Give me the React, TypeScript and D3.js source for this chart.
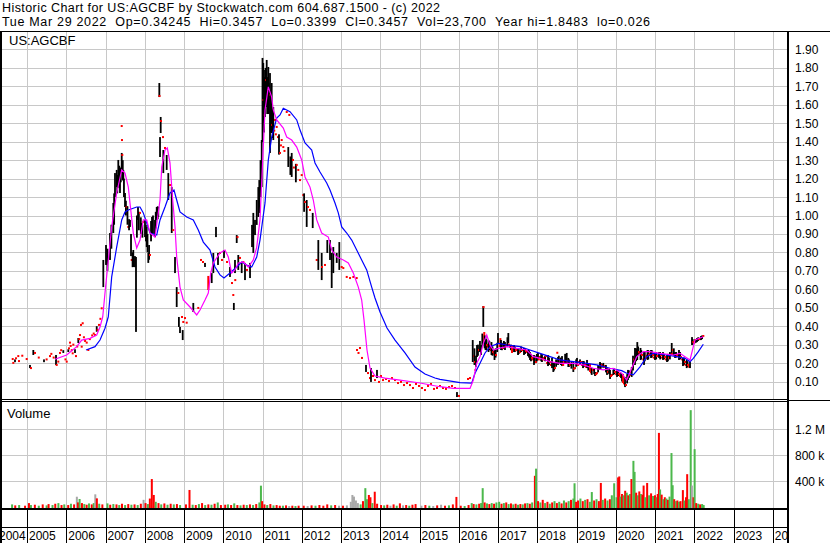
import React from 'react';
import * as d3 from 'd3';

const HEADER1 = 'Historic Chart for US:AGCBF by Stockwatch.com 604.687.1500 - (c) 2022';
const HEADER2 = 'Tue Mar 29 2022  Op=0.34245  Hi=0.3457  Lo=0.3399  Cl=0.3457  Vol=23,700  Year hi=1.8483  lo=0.026';
const SYMBOL = 'US:AGCBF';
const VOLUME_TITLE = 'Volume';

const YEARS = [2004, 2005, 2006, 2007, 2008, 2009, 2010, 2011, 2012, 2013, 2014, 2015, 2016, 2017, 2018, 2019, 2020, 2021, 2022, 2023, 2024];
const PRICE_TICKS = [0.1, 0.2, 0.3, 0.4, 0.5, 0.6, 0.7, 0.8, 0.9, 1.0, 1.1, 1.2, 1.3, 1.4, 1.5, 1.6, 1.7, 1.8, 1.9];
const VOL_TICKS = [400000, 800000, 1200000];
const VOL_TICK_LABELS = ['400 k', '800 k', '1.2 M'];

// [time (year), low, high, colour 0=black 1=red]
const BARS: [number, number, number, number][] = [
  [2004.636,0.222,0.222,1],[2004.651,0.201,0.201,1],[2004.694,0.205,0.220,0],[2004.72,0.226,0.226,1],[2004.778,0.238,0.238,1],
  [2004.796,0.211,0.211,1],[2004.88,0.240,0.240,1],[2004.992,0.222,0.222,1],[2005.076,0.173,0.190,0],[2005.102,0.173,0.173,1],
  [2005.161,0.244,0.271,0],[2005.204,0.255,0.255,1],[2005.30,0.230,0.230,1],[2005.433,0.205,0.220,0],[2005.50,0.220,0.220,1],[2005.586,0.238,0.238,1],
  [2005.62,0.250,0.250,1],[2005.68,0.230,0.230,1],
  [2005.739,0.190,0.244,0],[2005.757,0.190,0.190,1],[2005.797,0.208,0.208,1],[2005.841,0.255,0.255,1],[2005.87,0.270,0.270,1],
  [2005.925,0.255,0.270,0],[2005.98,0.220,0.220,1],[2006.012,0.208,0.208,1],[2006.052,0.260,0.275,0],[2006.07,0.280,0.280,1],[2006.096,0.311,0.311,1],
  [2006.113,0.293,0.293,1],[2006.14,0.270,0.270,1],[2006.164,0.253,0.253,1],[2006.18,0.300,0.300,1],[2006.223,0.255,0.275,0],[2006.248,0.238,0.238,1],
  [2006.28,0.290,0.290,1],[2006.307,0.309,0.336,0],[2006.33,0.330,0.330,1],[2006.350,0.352,0.352,1],[2006.376,0.407,0.407,1],[2006.419,0.416,0.416,1],
  [2006.394,0.289,0.289,1],[2006.45,0.340,0.340,1],[2006.48,0.320,0.320,1],[2006.521,0.311,0.311,1],[2006.562,0.271,0.271,1],
  [2006.60,0.330,0.330,1],[2006.66,0.350,0.350,1],[2006.70,0.360,0.360,1],[2006.733,0.352,0.352,1],
  [2006.776,0.370,0.400,0],[2006.80,0.380,0.380,1],[2006.834,0.407,0.407,1],[2006.87,0.440,0.440,1],[2006.903,0.497,0.497,1],
  [2006.944,0.612,0.759,0],[2007.013,0.732,0.840,0],[2007.05,0.700,0.820,0],[2007.115,0.759,0.905,0],[2007.15,0.820,0.950,0],[2007.199,0.905,1.068,0],
  [2007.22,0.950,1.120,0],[2007.242,1.100,1.230,0],[2007.285,1.154,1.247,0],[2007.30,1.120,1.220,0],[2007.326,1.176,1.301,0],[2007.35,1.150,1.270,0],[2007.369,1.122,1.230,0],
  [2007.39,1.180,1.260,0],[2007.413,1.230,1.339,0],[2007.413,1.485,1.485,1],[2007.420,1.409,1.409,1],[2007.428,1.328,1.328,1],
  [2007.44,1.190,1.300,0],[2007.454,1.192,1.247,0],[2007.47,1.100,1.200,0],[2007.497,1.046,1.122,0],[2007.52,1.000,1.080,0],[2007.540,1.046,1.046,1],
  [2007.56,0.950,1.050,0],[2007.581,0.938,0.938,1],[2007.60,0.920,0.980,0],
  [2007.624,0.938,0.976,0],[2007.65,0.780,0.900,0],[2007.668,0.759,0.759,1],[2007.69,0.720,0.800,0],[2007.708,0.721,0.813,0],[2007.75,0.720,0.780,0],[2007.777,0.369,0.775,0],
  [2007.80,0.880,1.000,0],[2007.828,0.976,1.046,0],[2007.85,0.920,1.020,0],[2007.879,1.014,1.014,1],[2007.90,0.900,0.990,0],[2007.922,0.905,0.959,0],[2007.94,0.880,0.950,0],[2007.963,0.965,0.965,1],
  [2008.006,0.883,0.976,0],[2008.03,0.860,0.950,0],[2008.050,0.829,0.938,0],[2008.07,0.800,0.900,0],[2008.090,0.743,0.797,0],[2008.11,0.760,0.840,0],[2008.134,0.786,0.786,1],
  [2008.16,0.860,0.970,0],[2008.185,0.905,0.992,0],[2008.21,0.900,1.000,0],[2008.261,0.883,0.976,0],[2008.28,0.930,1.020,0],[2008.305,0.976,1.046,0],[2008.33,0.980,1.050,0],[2008.345,0.992,1.046,0],
  [2008.371,1.642,1.718,0],[2008.376,1.648,1.648,1],[2008.389,1.317,1.425,0],[2008.406,1.447,1.534,0],
  [2008.414,1.512,1.512,1],[2008.465,1.425,1.425,1],[2008.473,1.230,1.355,0],[2008.516,1.366,1.366,1],
  [2008.559,1.247,1.328,0],[2008.600,1.084,1.230,0],[2008.643,1.165,1.165,1],[2008.687,0.905,1.154,0],
  [2008.727,0.921,0.921,1],[2008.771,0.688,0.775,0],[2008.814,0.504,0.612,0],[2008.855,0.580,0.580,1],
  [2008.870,0.396,0.450,0],[2008.898,0.363,0.396,0],[2008.949,0.450,0.450,1],[2008.982,0.423,0.423,1],
  [2008.967,0.325,0.379,0],[2009.026,0.444,0.444,1],[2009.069,0.419,0.419,1],[2009.237,0.477,0.526,0],
  [2009.364,0.499,0.499,1],[2009.433,0.759,0.759,1],[2009.484,0.748,0.748,1],[2009.535,0.721,0.743,0],
  [2009.619,0.596,0.667,1],[2009.706,0.634,0.688,0],[2009.747,0.688,0.797,0],[2009.815,0.883,0.938,0],
  [2009.866,0.732,0.797,0],[2009.917,0.797,0.797,1],[2009.968,0.759,0.759,1],[2010.019,0.770,0.813,0],
  [2010.096,0.748,0.748,1],[2010.172,0.667,0.721,0],[2010.223,0.634,0.634,1],[2010.256,0.569,0.569,1],
  [2010.270,0.488,0.526,0],[2010.299,0.688,0.759,0],[2010.306,0.650,0.650,1],[2010.343,0.851,0.894,0],
  [2010.364,0.883,0.883,1],[2010.383,0.705,0.786,0],[2010.427,0.770,0.770,1],[2010.470,0.688,0.743,0],
  [2010.511,0.748,0.748,1],[2010.554,0.650,0.743,0],[2010.605,0.705,0.705,1],[2010.682,0.661,0.743,0],
  [2010.733,0.829,0.949,0],[2010.766,0.797,1.014,0],[2010.809,0.894,0.976,0],[2010.853,0.949,1.084,0],
  [2010.893,0.992,1.154,0],[2010.918,1.014,1.192,0],[2010.95,1.100,1.300,0],[2010.980,1.154,1.409,0],
  [2011.000,1.398,1.854,0],[2011.01,1.500,1.700,0],[2011.020,1.518,1.827,0],[2011.025,1.626,1.626,1],[2011.038,1.545,1.545,1],
  [2011.04,1.450,1.750,0],[2011.064,1.534,1.789,0],[2011.08,1.600,1.800,0],[2011.089,1.734,1.734,1],[2011.107,1.588,1.843,0],[2011.12,1.550,1.750,0],[2011.140,1.680,1.680,1],
  [2011.148,1.588,1.805,0],[2011.16,1.550,1.720,0],[2011.191,1.339,1.772,0],[2011.204,1.653,1.653,1],[2011.21,1.450,1.680,0],[2011.234,1.447,1.718,0],
  [2011.242,1.491,1.491,1],[2011.26,1.420,1.580,0],[2011.275,1.409,1.588,0],[2011.30,1.460,1.460,1],[2011.318,1.518,1.518,1],[2011.34,1.440,1.440,1],[2011.362,1.480,1.480,1],
  [2011.395,1.425,1.425,1],[2011.42,1.330,1.440,0],[2011.446,1.339,1.339,1],[2011.47,1.380,1.380,1],[2011.489,1.409,1.409,1],[2011.530,1.371,1.371,1],
  [2011.56,1.350,1.350,1],[2011.617,1.561,1.561,1],[2011.683,1.545,1.545,1],[2011.657,1.263,1.371,0],[2011.71,1.220,1.320,0],[2011.744,1.209,1.339,0],
  [2011.777,1.301,1.301,1],[2011.80,1.260,1.260,1],[2011.85,1.180,1.280,0],[2011.872,1.274,1.274,1],[2011.912,1.247,1.247,1],[2011.956,1.192,1.192,1],
  [2011.999,1.219,1.219,1],[2012.040,1.111,1.111,1],[2012.06,1.020,1.120,0],[2012.083,1.073,1.073,1],[2012.126,0.938,1.084,0],
  [2012.159,1.046,1.046,1],[2012.210,1.030,1.030,1],[2012.279,0.932,1.014,0],[2012.381,0.759,0.759,1],
  [2012.422,0.705,0.867,0],[2012.508,0.650,0.797,0],[2012.516,0.721,0.721,1],[2012.592,0.732,0.732,1],
  [2012.651,0.797,0.867,0],[2012.720,0.759,0.867,0],[2012.763,0.607,0.797,0],[2012.804,0.688,0.829,0],
  [2012.891,0.743,0.797,0],[2012.957,0.705,0.856,0],[2013.018,0.721,0.721,1],[2013.059,0.715,0.715,1],
  [2013.146,0.667,0.667,1],[2013.230,0.661,0.661,1],[2013.314,0.667,0.667,1],[2013.400,0.661,0.661,1],
  [2013.408,0.271,0.271,1],[2013.446,0.255,0.255,1],[2013.484,0.282,0.282,1],[2013.535,0.228,0.228,1],
  [2013.637,0.152,0.190,0],[2013.688,0.146,0.146,1],[2013.739,0.119,0.119,1],[2013.764,0.098,0.173,0],
  [2013.815,0.130,0.130,1],[2013.866,0.108,0.108,1],[2013.917,0.119,0.163,0],[2013.968,0.098,0.098,1],
  [2014.019,0.130,0.130,1],[2014.070,0.108,0.108,1],[2014.146,0.114,0.114,1],[2014.223,0.103,0.103,1],
  [2014.299,0.119,0.119,1],[2014.376,0.108,0.108,1],[2014.452,0.092,0.092,1],[2014.529,0.098,0.098,1],
  [2014.605,0.081,0.081,1],[2014.682,0.092,0.092,1],[2014.758,0.081,0.081,1],[2014.834,0.065,0.065,1],
  [2014.911,0.087,0.087,1],[2014.987,0.076,0.076,1],[2015.064,0.065,0.065,1],[2015.140,0.054,0.054,1],
  [2015.217,0.076,0.076,1],[2015.293,0.087,0.087,1],[2015.369,0.060,0.060,1],[2015.446,0.065,0.065,1],
  [2015.522,0.076,0.076,1],[2015.599,0.065,0.065,1],[2015.675,0.060,0.060,1],[2015.752,0.070,0.070,1],
  [2015.828,0.076,0.076,1],[2015.904,0.065,0.065,1],[2015.955,0.016,0.043,0],[2016.006,0.022,0.022,1],
  [2016.236,0.114,0.114,1],[2016.287,0.119,0.119,1],[2016.356,0.206,0.325,0],[2016.389,0.238,0.238,1],
  [2016.40,0.190,0.280,0],[2016.414,0.206,0.206,1],[2016.427,0.163,0.163,1],[2016.44,0.180,0.240,0],[2016.465,0.233,0.298,0],[2016.49,0.240,0.300,0],[2016.516,0.271,0.271,1],
  [2016.54,0.260,0.320,0],[2016.567,0.244,0.298,0],[2016.60,0.290,0.360,0],[2016.625,0.396,0.509,0],[2016.630,0.504,0.504,1],[2016.650,0.309,0.363,1],
  [2016.66,0.280,0.350,0],[2016.682,0.271,0.341,0],[2016.70,0.270,0.330,0],[2016.720,0.298,0.298,1],[2016.74,0.290,0.290,1],[2016.758,0.260,0.325,0],[2016.78,0.270,0.320,0],[2016.796,0.282,0.282,1],
  [2016.82,0.270,0.270,1],[2016.834,0.244,0.314,0],[2016.86,0.240,0.290,0],[2016.873,0.260,0.260,1],[2016.90,0.250,0.250,1],[2016.911,0.217,0.271,0],[2016.94,0.230,0.280,0],[2016.949,0.244,0.244,1],
  [2016.98,0.260,0.310,0],[2017.000,0.309,0.363,0],[2017.038,0.293,0.293,1],[2017.06,0.290,0.330,1],[2017.076,0.271,0.325,0],[2017.10,0.270,0.310,0],[2017.127,0.282,0.282,1],
  [2017.15,0.280,0.320,0],[2017.178,0.271,0.314,0],[2017.217,0.298,0.298,1],[2017.24,0.290,0.340,0],[2017.263,0.309,0.363,0],[2017.28,0.300,0.300,1],[2017.306,0.287,0.287,1],
  [2017.33,0.270,0.300,0],[2017.357,0.255,0.287,1],[2017.38,0.280,0.280,1],[2017.408,0.260,0.298,0],[2017.43,0.260,0.290,0],[2017.459,0.271,0.271,1],[2017.48,0.270,0.270,1],[2017.510,0.244,0.282,0],
  [2017.53,0.250,0.280,0],[2017.561,0.260,0.260,1],[2017.59,0.260,0.290,0],[2017.611,0.271,0.271,1],[2017.64,0.270,0.270,1],[2017.662,0.244,0.282,0],[2017.69,0.250,0.280,0],[2017.713,0.266,0.266,1],
  [2017.74,0.260,0.260,1],[2017.764,0.238,0.271,0],[2017.79,0.230,0.270,0],[2017.815,0.217,0.260,0],[2017.84,0.210,0.250,0],[2017.866,0.228,0.228,1],[2017.89,0.220,0.220,1],[2017.917,0.190,0.244,0],
  [2017.94,0.200,0.240,0],[2017.968,0.206,0.206,1],[2017.99,0.210,0.250,0],[2018.019,0.217,0.255,0],[2018.04,0.220,0.220,1],[2018.070,0.233,0.233,1],[2018.10,0.210,0.250,0],[2018.121,0.206,0.249,0],
  [2018.15,0.220,0.220,1],[2018.172,0.228,0.228,1],[2018.20,0.210,0.240,0],[2018.223,0.238,0.238,1],[2018.25,0.200,0.200,1],[2018.274,0.184,0.244,0],[2018.30,0.190,0.230,0],[2018.325,0.206,0.206,1],
  [2018.35,0.190,0.190,1],[2018.376,0.173,0.228,0],[2018.409,0.152,0.201,0],[2018.43,0.160,0.200,0],[2018.452,0.173,0.173,1],[2018.48,0.180,0.220,0],[2018.511,0.256,0.256,1],
  [2018.529,0.190,0.233,0],[2018.55,0.200,0.240,0],[2018.580,0.217,0.217,1],[2018.60,0.190,0.230,0],[2018.631,0.184,0.238,0],[2018.66,0.190,0.190,1],[2018.682,0.206,0.206,1],
  [2018.71,0.200,0.250,0],[2018.751,0.201,0.255,0],[2018.77,0.210,0.210,1],[2018.791,0.179,0.228,0],[2018.81,0.180,0.220,0],[2018.834,0.190,0.190,1],[2018.87,0.170,0.210,0],[2018.919,0.152,0.206,0],
  [2018.94,0.170,0.170,1],[2018.962,0.173,0.173,1],[2018.99,0.180,0.220,0],[2019.013,0.184,0.228,0],[2019.04,0.190,0.190,1],[2019.064,0.206,0.206,1],[2019.09,0.190,0.220,0],[2019.115,0.206,0.206,1],
  [2019.14,0.190,0.190,1],[2019.166,0.173,0.211,0],[2019.19,0.180,0.210,0],[2019.217,0.190,0.190,1],[2019.24,0.180,0.180,1],[2019.268,0.173,0.217,0],[2019.30,0.160,0.200,0],[2019.344,0.152,0.190,1],
  [2019.37,0.150,0.150,1],[2019.388,0.136,0.173,0],[2019.421,0.163,0.163,1],[2019.45,0.140,0.170,0],[2019.472,0.130,0.152,0],[2019.50,0.140,0.140,1],[2019.522,0.146,0.146,1],
  [2019.55,0.150,0.190,0],[2019.599,0.163,0.206,0],[2019.62,0.170,0.200,0],[2019.650,0.190,0.190,1],[2019.683,0.173,0.201,0],[2019.70,0.180,0.180,1],[2019.726,0.184,0.184,1],
  [2019.75,0.150,0.190,0],[2019.777,0.136,0.173,0],[2019.803,0.152,0.152,1],[2019.83,0.140,0.170,0],[2019.854,0.114,0.163,0],[2019.88,0.130,0.130,1],[2019.904,0.136,0.136,1],
  [2019.938,0.136,0.163,0],[2019.96,0.140,0.170,0],[2019.981,0.152,0.152,1],[2020.01,0.140,0.140,1],[2020.032,0.125,0.163,0],[2020.06,0.130,0.160,0],[2020.083,0.141,0.141,1],
  [2020.11,0.130,0.130,1],[2020.134,0.119,0.146,0],[2020.16,0.100,0.140,0],[2020.185,0.092,0.136,1],[2020.21,0.090,0.090,1],[2020.236,0.070,0.125,0],[2020.261,0.081,0.081,1],
  [2020.29,0.090,0.140,0],[2020.312,0.108,0.163,0],[2020.34,0.120,0.160,0],[2020.363,0.136,0.136,1],[2020.38,0.150,0.150,1],[2020.406,0.125,0.179,0],[2020.44,0.160,0.240,0],[2020.47,0.220,0.220,1],[2020.490,0.190,0.282,0],
  [2020.516,0.217,0.217,1],[2020.52,0.210,0.280,0],[2020.549,0.217,0.314,0],[2020.57,0.240,0.290,0],[2020.592,0.260,0.260,1],[2020.61,0.250,0.250,1],[2020.631,0.217,0.282,0],[2020.65,0.220,0.270,0],
  [2020.669,0.244,0.244,1],[2020.70,0.220,0.220,1],[2020.720,0.190,0.260,0],[2020.74,0.210,0.260,0],[2020.771,0.228,0.228,1],[2020.79,0.240,0.240,1],[2020.809,0.217,0.271,0],[2020.83,0.220,0.270,0],
  [2020.847,0.244,0.244,1],[2020.87,0.250,0.250,1],[2020.898,0.228,0.271,0],[2020.92,0.230,0.270,0],[2020.949,0.244,0.244,1],[2020.97,0.230,0.230,1],[2021.000,0.217,0.260,0],[2021.03,0.220,0.260,0],
  [2021.051,0.238,0.238,1],[2021.08,0.240,0.240,1],[2021.102,0.228,0.260,0],[2021.13,0.220,0.260,0],[2021.153,0.244,0.244,1],[2021.18,0.230,0.230,1],[2021.204,0.217,0.260,0],[2021.23,0.220,0.250,0],
  [2021.255,0.233,0.233,1],[2021.28,0.220,0.220,1],[2021.306,0.206,0.244,0],[2021.33,0.210,0.250,0],[2021.357,0.228,0.228,1],[2021.38,0.220,0.260,0],[2021.426,0.244,0.309,0],[2021.44,0.250,0.250,1],
  [2021.459,0.271,0.271,1],[2021.48,0.240,0.280,0],[2021.510,0.228,0.260,0],[2021.54,0.230,0.260,0],[2021.561,0.244,0.244,1],[2021.59,0.240,0.240,1],[2021.611,0.217,0.271,0],[2021.64,0.220,0.260,0],
  [2021.662,0.233,0.233,1],[2021.69,0.220,0.220,1],[2021.713,0.184,0.228,0],[2021.74,0.190,0.230,0],[2021.764,0.206,0.206,1],[2021.78,0.190,0.190,1],[2021.808,0.173,0.217,0],[2021.83,0.180,0.210,0],
  [2021.841,0.190,0.190,1],[2021.87,0.180,0.180,1],[2021.892,0.173,0.206,0],[2021.943,0.298,0.341,0],[2021.96,0.300,0.330,0],[2021.976,0.314,0.314,1],[2022.00,0.310,0.310,1],
  [2022.019,0.325,0.325,1],[2022.04,0.310,0.330,0],[2022.070,0.314,0.336,0],[2022.10,0.320,0.340,0],[2022.121,0.331,0.331,1],[2022.15,0.330,0.330,1],[2022.172,0.325,0.347,0],
  [2022.20,0.330,0.350,0],[2022.231,0.347,0.347,1],
];

// shorter moving average (magenta)
const MA_FAST: [number, number][] = [
  [2005.713,0.221],[2006.011,0.244],[2006.266,0.289],[2006.394,0.325],[2006.605,0.334],[2006.776,0.352],
  [2006.860,0.396],[2006.929,0.450],[2006.987,0.580],[2007.071,0.759],[2007.158,0.938],[2007.285,1.122],
  [2007.413,1.247],[2007.497,1.230],[2007.581,1.154],[2007.624,1.068],[2007.708,0.905],[2007.795,0.824],
  [2007.879,0.867],[2007.963,0.976],[2008.050,0.976],[2008.134,0.905],[2008.261,0.883],[2008.320,0.976],
  [2008.389,1.084],[2008.432,1.263],[2008.516,1.355],[2008.575,1.366],[2008.643,1.285],[2008.712,1.084],
  [2008.771,0.938],[2008.814,0.775],[2008.898,0.612],[2008.982,0.542],[2009.153,0.504],[2009.324,0.461],
  [2009.408,0.488],[2009.535,0.542],[2009.619,0.580],[2009.680,0.688],[2009.747,0.743],[2009.917,0.797],
  [2010.045,0.813],[2010.129,0.775],[2010.215,0.688],[2010.299,0.705],[2010.383,0.743],[2010.511,0.748],
  [2010.638,0.721],[2010.766,0.759],[2010.853,0.829],[2010.936,0.976],[2011.005,1.301],[2011.064,1.572],
  [2011.148,1.697],[2011.234,1.642],[2011.275,1.572],[2011.362,1.518],[2011.530,1.474],[2011.617,1.425],
  [2011.744,1.409],[2011.872,1.371],[2011.999,1.301],[2012.083,1.209],[2012.210,1.154],[2012.294,1.084],
  [2012.381,0.976],[2012.508,0.905],[2012.677,0.883],[2012.763,0.813],[2012.891,0.775],[2013.059,0.759],
  [2013.186,0.743],[2013.314,0.688],[2013.441,0.612],[2013.527,0.542],[2013.586,0.434],[2013.662,0.271],
  [2013.739,0.173],[2013.866,0.130],[2014.121,0.119],[2014.503,0.108],[2015.013,0.092],[2015.522,0.072],
  [2015.862,0.063],[2016.287,0.063],[2016.371,0.108],[2016.458,0.199],[2016.542,0.235],[2016.626,0.307],
  [2016.713,0.352],[2016.796,0.298],[2016.880,0.271],[2017.008,0.280],[2017.222,0.289],[2017.477,0.280],
  [2017.732,0.271],[2017.900,0.235],[2018.070,0.226],[2018.325,0.208],[2018.580,0.199],[2018.919,0.199],
  [2019.174,0.190],[2019.428,0.172],[2019.683,0.163],[2019.938,0.172],[2020.152,0.145],[2020.279,0.108],
  [2020.406,0.172],[2020.534,0.235],[2020.702,0.262],[2020.873,0.262],[2021.127,0.253],[2021.466,0.244],
  [2021.637,0.253],[2021.764,0.235],[2021.892,0.217],[2021.976,0.289],[2022.019,0.325],[2022.231,0.343],
];

// longer moving average (blue)
const MA_SLOW: [number, number][] = [
  [2006.503,0.271],[2006.733,0.289],[2006.860,0.325],[2006.987,0.389],[2007.071,0.451],[2007.158,0.667],
  [2007.285,0.829],[2007.413,0.976],[2007.497,1.019],[2007.581,1.030],[2007.795,1.046],[2007.879,1.046],
  [2007.963,1.014],[2008.050,0.959],[2008.134,0.905],[2008.305,0.894],[2008.389,0.976],[2008.516,1.046],
  [2008.643,1.122],[2008.745,1.138],[2008.814,1.084],[2008.898,1.019],[2009.069,0.992],[2009.237,0.976],
  [2009.364,0.921],[2009.492,0.856],[2009.662,0.813],[2009.790,0.721],[2009.917,0.678],[2010.019,0.661],
  [2010.172,0.688],[2010.343,0.721],[2010.470,0.748],[2010.598,0.732],[2010.725,0.721],[2010.853,0.775],
  [2010.936,0.867],[2011.064,1.068],[2011.148,1.301],[2011.234,1.425],[2011.362,1.528],[2011.446,1.545],
  [2011.530,1.581],[2011.701,1.563],[2011.872,1.518],[2011.956,1.463],[2012.083,1.393],[2012.254,1.355],
  [2012.338,1.285],[2012.465,1.236],[2012.636,1.176],[2012.720,1.138],[2012.847,1.068],[2012.931,1.014],
  [2013.018,0.938],[2013.146,0.905],[2013.273,0.867],[2013.400,0.813],[2013.527,0.759],[2013.655,0.705],
  [2013.782,0.612],[2013.866,0.553],[2013.994,0.477],[2014.172,0.390],[2014.376,0.325],[2014.631,0.255],
  [2014.885,0.179],[2015.140,0.141],[2015.395,0.119],[2015.522,0.112],[2016.032,0.094],[2016.330,0.091],
  [2016.414,0.145],[2016.542,0.199],[2016.669,0.255],[2016.796,0.289],[2017.008,0.307],[2017.222,0.298],
  [2017.561,0.289],[2017.815,0.271],[2018.070,0.253],[2018.325,0.235],[2018.580,0.217],[2018.919,0.208],
  [2019.260,0.199],[2019.515,0.190],[2019.854,0.172],[2020.152,0.159],[2020.279,0.145],[2020.447,0.136],
  [2020.618,0.180],[2020.789,0.235],[2020.957,0.253],[2021.298,0.244],[2021.553,0.235],[2021.764,0.226],
  [2021.892,0.208],[2021.976,0.226],[2022.104,0.262],[2022.231,0.302],
];

// [time, volume, colour g=up r=down n=unchanged]
const VOLUME: [number, number, string][] = [
  [2004.62,40000,'g'],[2004.70,25000,'r'],[2004.80,30000,'g'],[2004.95,20000,'r'],[2005.05,60000,'r'],
  [2005.10,30000,'g'],[2005.20,35000,'r'],[2005.30,20000,'g'],[2005.40,40000,'r'],[2005.50,25000,'g'],
  [2005.55,45000,'r'],[2005.65,30000,'g'],[2005.72,50000,'r'],[2005.80,60000,'g'],[2005.88,30000,'r'],
  [2005.95,40000,'g'],[2006.05,30000,'r'],[2006.12,50000,'g'],[2006.20,40000,'r'],[2006.27,158000,'n'],
  [2006.30,71000,'r'],[2006.34,123000,'g'],[2006.40,60000,'r'],[2006.46,45000,'g'],[2006.52,35000,'r'],
  [2006.58,55000,'g'],[2006.65,40000,'r'],[2006.70,60000,'g'],[2006.74,195000,'n'],[2006.78,133000,'r'],
  [2006.84,50000,'g'],[2006.92,40000,'r'],[2007.05,56000,'g'],[2007.12,35000,'r'],[2007.20,45000,'g'],
  [2007.28,40000,'r'],[2007.35,30000,'g'],[2007.42,50000,'r'],[2007.50,30000,'g'],[2007.58,45000,'r'],
  [2007.66,35000,'g'],[2007.74,40000,'r'],[2007.82,30000,'g'],[2007.90,50000,'r'],[2007.97,110000,'n'],
  [2008.02,60000,'r'],[2008.08,45000,'g'],[2008.13,130000,'r'],[2008.18,430000,'r'],[2008.23,185000,'r'],
  [2008.28,80000,'g'],[2008.35,60000,'r'],[2008.42,40000,'g'],[2008.50,55000,'r'],[2008.58,35000,'g'],
  [2008.66,50000,'r'],[2008.74,40000,'g'],[2008.82,45000,'r'],[2008.90,30000,'g'],[2009.05,40000,'r'],
  [2009.14,262000,'r'],[2009.22,35000,'g'],[2009.30,30000,'r'],[2009.38,45000,'g'],[2009.46,60000,'r'],
  [2009.54,30000,'g'],[2009.62,40000,'r'],[2009.70,35000,'g'],[2009.78,50000,'r'],[2009.86,70000,'g'],
  [2009.94,30000,'r'],[2010.05,35000,'r'],[2010.12,40000,'g'],[2010.20,30000,'r'],[2010.28,56000,'g'],
  [2010.36,30000,'r'],[2010.44,25000,'g'],[2010.52,35000,'r'],[2010.60,30000,'g'],[2010.68,40000,'r'],
  [2010.76,30000,'g'],[2010.84,45000,'r'],[2010.92,70000,'g'],[2010.96,328000,'g'],[2010.99,90000,'r'],
  [2011.05,40000,'r'],[2011.12,30000,'g'],[2011.20,45000,'r'],[2011.28,25000,'g'],[2011.36,30000,'r'],
  [2011.44,20000,'r'],[2011.52,20000,'g'],[2011.60,25000,'r'],[2011.68,15000,'n'],[2011.76,20000,'r'],
  [2011.84,15000,'g'],[2011.92,20000,'r'],[2012.05,20000,'r'],[2012.15,15000,'n'],[2012.25,25000,'r'],
  [2012.35,20000,'g'],[2012.45,30000,'r'],[2012.55,20000,'r'],[2012.65,40000,'r'],[2012.75,25000,'g'],
  [2012.85,30000,'r'],[2012.95,20000,'n'],[2013.05,20000,'r'],[2013.15,25000,'n'],[2013.25,80000,'n'],
  [2013.29,185000,'n'],[2013.33,160000,'n'],[2013.38,100000,'n'],[2013.43,60000,'n'],[2013.50,40000,'g'],
  [2013.56,90000,'r'],[2013.62,290000,'g'],[2013.66,120000,'g'],[2013.71,185000,'r'],[2013.75,150000,'r'],
  [2013.80,60000,'g'],[2013.86,235000,'r'],[2013.92,50000,'r'],[2014.02,30000,'r'],[2014.10,25000,'g'],
  [2014.18,35000,'r'],[2014.26,20000,'n'],[2014.34,40000,'r'],[2014.42,20000,'g'],[2014.50,56000,'r'],
  [2014.58,25000,'n'],[2014.66,30000,'r'],[2014.74,20000,'g'],[2014.82,35000,'r'],[2014.90,45000,'r'],
  [2015.05,20000,'n'],[2015.15,30000,'r'],[2015.25,20000,'g'],[2015.35,15000,'n'],[2015.45,25000,'r'],
  [2015.55,35000,'n'],[2015.65,20000,'r'],[2015.75,25000,'g'],[2015.85,40000,'r'],[2015.94,155000,'r'],
  [2016.05,20000,'r'],[2016.15,15000,'g'],[2016.25,30000,'r'],[2016.33,60000,'g'],[2016.38,45000,'r'],
  [2016.45,40000,'g'],[2016.52,50000,'r'],[2016.57,60000,'g'],[2016.61,290000,'g'],[2016.66,70000,'r'],
  [2016.72,55000,'g'],[2016.78,45000,'r'],[2016.84,60000,'g'],[2016.90,50000,'r'],[2016.96,70000,'g'],
  [2017.03,80000,'g'],[2017.09,50000,'r'],[2017.15,60000,'g'],[2017.21,70000,'r'],[2017.27,45000,'g'],
  [2017.33,55000,'r'],[2017.39,40000,'g'],[2017.45,50000,'r'],[2017.51,35000,'g'],[2017.57,45000,'r'],
  [2017.63,40000,'g'],[2017.69,55000,'r'],[2017.75,60000,'g'],[2017.81,50000,'r'],[2017.87,70000,'g'],
  [2017.94,480000,'r'],[2017.97,590000,'g'],[2018.02,90000,'r'],[2018.08,70000,'g'],[2018.14,110000,'r'],
  [2018.20,60000,'g'],[2018.26,80000,'r'],[2018.32,50000,'g'],[2018.38,70000,'r'],[2018.44,90000,'g'],
  [2018.50,60000,'r'],[2018.56,80000,'g'],[2018.62,55000,'r'],[2018.68,100000,'g'],[2018.74,70000,'r'],
  [2018.80,90000,'g'],[2018.86,110000,'r'],[2018.92,130000,'g'],[2018.95,365000,'g'],[2018.99,80000,'r'],
  [2019.04,100000,'r'],[2019.10,130000,'g'],[2019.16,90000,'r'],[2019.22,110000,'g'],[2019.28,120000,'r'],
  [2019.34,80000,'g'],[2019.39,230000,'g'],[2019.45,100000,'r'],[2019.51,120000,'g'],[2019.57,90000,'r'],
  [2019.62,370000,'r'],[2019.67,110000,'g'],[2019.73,130000,'r'],[2019.79,100000,'g'],[2019.85,120000,'r'],
  [2019.90,180000,'g'],[2019.96,365000,'g'],[2020.02,150000,'g'],[2020.06,455000,'r'],[2020.09,470000,'r'],
  [2020.12,160000,'g'],[2020.16,200000,'r'],[2020.20,180000,'g'],[2020.24,250000,'r'],[2020.28,220000,'g'],
  [2020.32,180000,'r'],[2020.36,200000,'g'],[2020.40,430000,'r'],[2020.45,710000,'g'],[2020.48,540000,'g'],
  [2020.52,220000,'r'],[2020.56,180000,'g'],[2020.60,240000,'r'],[2020.64,200000,'g'],[2020.68,190000,'r'],
  [2020.71,330000,'r'],[2020.75,150000,'g'],[2020.80,370000,'r'],[2020.85,180000,'g'],[2020.90,210000,'r'],
  [2020.95,170000,'g'],[2021.00,180000,'r'],[2021.04,150000,'g'],[2021.07,200000,'r'],[2021.10,1140000,'r'],
  [2021.13,270000,'g'],[2021.17,190000,'r'],[2021.21,120000,'g'],[2021.25,150000,'r'],[2021.29,130000,'g'],
  [2021.33,110000,'r'],[2021.37,160000,'g'],[2021.42,830000,'g'],[2021.45,335000,'g'],[2021.49,120000,'r'],
  [2021.53,90000,'g'],[2021.57,100000,'r'],[2021.61,80000,'g'],[2021.65,90000,'r'],[2021.71,260000,'r'],
  [2021.75,100000,'g'],[2021.79,150000,'r'],[2021.82,505000,'r'],[2021.86,120000,'g'],[2021.91,1490000,'g'],
  [2021.94,330000,'n'],[2021.98,150000,'r'],[2022.01,890000,'g'],[2022.05,60000,'r'],[2022.10,50000,'g'],
  [2022.15,40000,'r'],[2022.20,45000,'g'],[2022.24,30000,'g'],
];

const W = 830;
const H = 543;
const PLOT_L = 2;
const PLOT_R = 787;
const PRICE_TOP = 31;
const PRICE_BOT = 399;
const VOL_TOP = 402;
const VOL_BOT = 508;
const FONT = '"Liberation Sans", Arial, Helvetica, sans-serif';
const GRID = '#c8c8c8';
const VOL_COLORS: Record<string, string> = { g: '#4cb84c', r: '#ff0000', n: '#a8a8a8' };

const nb = (s: string) => s.replace(/ /g, '\u00a0');

export default function App() {
  const x = d3.scaleLinear().domain([2005, 2022]).range([27, 694.25]);
  const yP = d3.scaleLinear().domain([0, 1.9]).range([400, 49.45]);
  const yV = d3.scaleLinear().domain([0, 1200000]).range([507, 429]);

  const lineP = d3.line<[number, number]>().x(d => x(d[0])).y(d => yP(d[1]));

  const gridYears = YEARS.filter(y => y >= 2005);

  return (
    <svg width={W} height={H} style={{ position: 'absolute', left: 0, top: 0, background: '#fff' }}
      fontFamily={FONT}>
      <defs>
        <clipPath id="pclip"><rect x={PLOT_L} y={PRICE_TOP + 1} width={PLOT_R - PLOT_L} height={PRICE_BOT - PRICE_TOP - 1} /></clipPath>
        <clipPath id="vclip"><rect x={PLOT_L} y={VOL_TOP} width={PLOT_R - PLOT_L} height={VOL_BOT - VOL_TOP} /></clipPath>
        <clipPath id="xclip"><rect x={0} y={528} width={789} height={15} /></clipPath>
      </defs>
      <rect x={0} y={0} width={W} height={H} fill="#fff" />

      {/* header */}
      <text x={2} y={11.5} fontSize={12.5} fill="#000" textLength={438} lengthAdjust="spacing">{HEADER1}</text>
      <text x={2} y={25.5} fontSize={12.5} fill="#000" textLength={648} lengthAdjust="spacing">{nb(HEADER2)}</text>

      {/* price grid */}
      {PRICE_TICKS.map(v => (
        <line key={'pg' + v} x1={PLOT_L} x2={PLOT_R} y1={Math.round(yP(v)) + 0.5} y2={Math.round(yP(v)) + 0.5} stroke={GRID} strokeWidth={1} />
      ))}
      {gridYears.map(yr => (
        <line key={'pv' + yr} x1={Math.round(x(yr)) + 0.5} x2={Math.round(x(yr)) + 0.5} y1={PRICE_TOP} y2={PRICE_BOT} stroke={GRID} strokeWidth={1} />
      ))}
      {/* volume grid */}
      {VOL_TICKS.map(v => (
        <line key={'vg' + v} x1={PLOT_L} x2={PLOT_R} y1={Math.round(yV(v)) + 0.5} y2={Math.round(yV(v)) + 0.5} stroke={GRID} strokeWidth={1} />
      ))}
      {gridYears.map(yr => (
        <line key={'vv' + yr} x1={Math.round(x(yr)) + 0.5} x2={Math.round(x(yr)) + 0.5} y1={VOL_TOP} y2={VOL_BOT} stroke={GRID} strokeWidth={1} />
      ))}

      {/* price bars */}
      <g clipPath="url(#pclip)">
        {BARS.map((b, i) => {
          const cx = x(b[0]);
          const top = yP(b[2]);
          const bot = yP(b[1]);
          if (b[3] === 1) {
            return <rect key={'b' + i} x={cx - 1} y={top - 1} width={2} height={Math.max(2, bot - top + 1)} fill="#ff0000" />;
          }
          return <rect key={'b' + i} x={cx - 0.9} y={top} width={1.8} height={Math.max(2, bot - top)} fill="#000" />;
        })}
        <path d={lineP(MA_SLOW) || ''} fill="none" stroke="#0000ff" strokeWidth={1.2} />
        <path d={lineP(MA_FAST) || ''} fill="none" stroke="#ff00ff" strokeWidth={1.2} />
      </g>

      {/* volume bars */}
      <g clipPath="url(#vclip)">
        {VOLUME.map((v, i) => {
          const top = yV(v[1]);
          return <rect key={'v' + i} x={x(v[0]) - 1} y={top} width={2} height={508 - top} fill={VOL_COLORS[v[2]]} />;
        })}
      </g>

      {/* panel labels */}
      <text x={9} y={44.5} fontSize={13} fill="#000">{SYMBOL}</text>
      <text x={7} y={418} fontSize={13} fill="#000">{VOLUME_TITLE}</text>

      {/* frame lines */}
      <rect x={0} y={PRICE_TOP} width={W} height={1} fill="#000" />
      <rect x={0} y={399} width={789} height={1} fill="#000" />
      <rect x={0} y={401} width={789} height={1} fill="#000" />
      <rect x={789} y={400} width={W - 789} height={1} fill="#000" />
      <rect x={0} y={508} width={789} height={2} fill="#000" />
      <rect x={0} y={527} width={789} height={1} fill="#000" />
      <rect x={0} y={PRICE_TOP} width={2} height={H - PRICE_TOP} fill="#000" />
      <rect x={787} y={PRICE_TOP} width={2} height={H - PRICE_TOP} fill="#000" />

      {/* x axis cells */}
      {gridYears.map(yr => (
        <line key={'xl' + yr} x1={Math.round(x(yr)) + 0.5} x2={Math.round(x(yr)) + 0.5} y1={510} y2={H} stroke="#000" strokeWidth={1} />
      ))}
      <g clipPath="url(#xclip)">
        {YEARS.map(yr => (
          <text key={'xt' + yr} x={Math.max(x(yr) + 2, -1)} y={540} fontSize={12} fill="#000">{yr}</text>
        ))}
      </g>

      {/* right axis labels */}
      {PRICE_TICKS.map(v => (
        <text key={'pl' + v} x={795} y={yP(v) + 4.5} fontSize={12} fill="#000">{v.toFixed(2)}</text>
      ))}
      {VOL_TICKS.map((v, i) => (
        <text key={'vl' + v} x={795} y={yV(v) + 4.5} fontSize={12} fill="#000">{VOL_TICK_LABELS[i]}</text>
      ))}
    </svg>
  );
}
